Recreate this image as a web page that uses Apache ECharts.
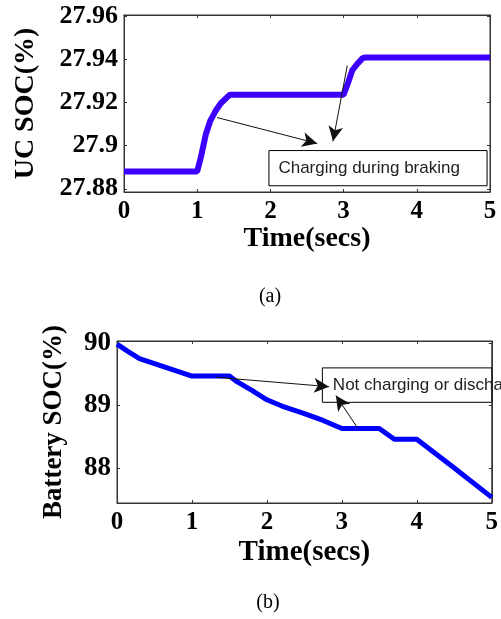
<!DOCTYPE html>
<html>
<head>
<meta charset="utf-8">
<script src="https://cdn.jsdelivr.net/npm/echarts@6/dist/echarts.min.js"></script>
<style>
  html, body { margin: 0; padding: 0; background: #fff; }
  #chart { width: 501px; height: 619px; }
</style>
</head>
<body>
<div id="chart"></div>
<script>
// (a) ultracapacitor state of charge
var ucTime = [0, 1.0, 1.05, 1.12, 1.18, 1.25, 1.32, 1.41, 1.45, 3.0, 3.06, 3.12, 3.19, 3.26, 3.3, 5.0];
var ucSoc = [27.888, 27.888, 27.8946, 27.9055, 27.9116, 27.916, 27.9195, 27.9225, 27.9236, 27.9236, 27.929, 27.935, 27.938, 27.9405, 27.9408, 27.9408];
var ucTicks = [27.88, 27.9, 27.92, 27.94, 27.96];

// (b) battery state of charge
var batTime = [0, 0.15, 0.3, 0.5, 0.75, 1.0, 1.5, 1.6, 1.8, 2.0, 2.2, 2.5, 2.75, 3.0, 3.5, 3.7, 4.0, 4.5, 5.0];
var batSoc = [89.98, 89.86, 89.75, 89.67, 89.57, 89.47, 89.47, 89.38, 89.24, 89.09, 88.99, 88.87, 88.76, 88.63, 88.63, 88.46, 88.46, 88.0, 87.53];
var batTicks = [88, 89, 90];

function pairs(xs, ys) {
    return xs.map(function (x, i) { return [x, ys[i]]; });
}

var serif = '"Liberation Serif", "Times New Roman", serif';
var sans = '"Liberation Sans", Arial, sans-serif';

function xAxisMain(grid, gap, nameSize) {
    return {
        type: 'value', gridIndex: grid, min: 0, max: 5, interval: 1,
        name: 'Time(secs)', nameLocation: 'middle', nameGap: gap,
        nameTextStyle: { fontFamily: serif, fontWeight: 'bold', fontSize: nameSize, color: '#000' },
        axisLine: { onZero: false, lineStyle: { color: '#333', width: 1 } },
        axisTick: { inside: true, length: 3, lineStyle: { color: '#333' } },
        axisLabel: { fontFamily: serif, fontWeight: 'bold', fontSize: 25, color: '#000', margin: 7 },
        splitLine: { show: false }
    };
}
function frameX(grid) {
    return {
        type: 'value', gridIndex: grid, min: 0, max: 5, interval: 1, position: 'top',
        axisLine: { onZero: false, lineStyle: { color: '#333', width: 1 } },
        axisTick: { inside: true, length: 3, lineStyle: { color: '#333' } },
        axisLabel: { show: false }, splitLine: { show: false }
    };
}
function yAxisMain(grid, min, max, ticks, title, gap, labelSize, nameSize) {
    return {
        type: 'value', gridIndex: grid, min: min, max: max,
        name: title, nameLocation: 'middle', nameGap: gap, nameRotate: 90,
        nameTextStyle: { fontFamily: serif, fontWeight: 'bold', fontSize: nameSize, color: '#000' },
        axisLine: { show: true, onZero: false, lineStyle: { color: '#333', width: 1 } },
        axisTick: { inside: true, length: 3, customValues: ticks, lineStyle: { color: '#333' } },
        axisLabel: { customValues: ticks, fontFamily: serif, fontWeight: 'bold', fontSize: labelSize, color: '#000', margin: 6 },
        splitLine: { show: false }
    };
}
function frameY(grid, min, max, ticks) {
    return {
        type: 'value', gridIndex: grid, min: min, max: max, position: 'right',
        axisLine: { show: true, onZero: false, lineStyle: { color: '#333', width: 1 } },
        axisTick: { inside: true, length: 3, customValues: ticks, lineStyle: { color: '#333' } },
        axisLabel: { show: false }, splitLine: { show: false }
    };
}

function arrow(from, to) {
    return [{ coord: from }, { coord: to }];
}

var chart = echarts.init(document.getElementById('chart'));
chart.setOption({
    backgroundColor: '#fff',
    animation: false,
    grid: [
        { left: 124, right: 11, top: 15, height: 177, show: true, borderColor: '#333', borderWidth: 1 },
        { left: 117, right: 2, top: 341, height: 162, show: true, borderColor: '#333', borderWidth: 1 }
    ],
    xAxis: [xAxisMain(0, 33, 28), frameX(0), xAxisMain(1, 35, 29), frameX(1)],
    yAxis: [
        yAxisMain(0, 27.8785, 27.9605, ucTicks, 'UC SOC(%)', 84, 26, 28),
        frameY(0, 27.8785, 27.9605, ucTicks),
        yAxisMain(1, 87.44, 90.03, batTicks, 'Battery SOC(%)', 49, 27, 27),
        frameY(1, 87.44, 90.03, batTicks)
    ],
    series: [
        {
            type: 'line', xAxisIndex: 0, yAxisIndex: 0, data: pairs(ucTime, ucSoc),
            showSymbol: false, clip: false,
            lineStyle: { color: '#3d00ff', width: 6 },
            markArea: {
                silent: true,
                itemStyle: { color: '#fff', borderColor: '#000', borderWidth: 1 },
                label: { show: true, position: 'insideLeft', distance: 10, fontFamily: sans, fontSize: 17, color: '#222' },
                data: [[{ coord: [1.98, 27.8977], name: 'Charging during braking' }, { coord: [4.96, 27.8814] }]]
            },
            markLine: {
                silent: true, symbol: ['none', 'arrow'], symbolSize: [11, 15],
                label: { show: false },
                lineStyle: { color: '#111', width: 1, type: 'solid' },
                data: [arrow([1.27, 27.913], [2.64, 27.901]), arrow([3.05, 27.937], [2.855, 27.902])]
            }
        },
        { type: 'line', xAxisIndex: 1, yAxisIndex: 1, data: [] },
        {
            type: 'line', xAxisIndex: 2, yAxisIndex: 2, data: pairs(batTime, batSoc),
            showSymbol: false, clip: false,
            lineStyle: { color: '#0000ff', width: 5 },
            markArea: {
                silent: true,
                itemStyle: { color: '#fff', borderColor: '#000', borderWidth: 1 },
                label: { show: true, position: 'insideLeft', distance: 11, fontFamily: sans, fontSize: 17, color: '#222' },
                data: [[{ coord: [2.74, 89.6], name: 'Not charging or discharging' }, { coord: [5.3, 89.05] }]]
            },
            markLine: {
                silent: true, symbol: ['none', 'arrow'], symbolSize: [11, 15],
                label: { show: false },
                lineStyle: { color: '#111', width: 1, type: 'solid' },
                data: [arrow([1.32, 89.45], [2.83, 89.3]), arrow([3.21, 88.64], [2.92, 89.16])]
            }
        },
        { type: 'line', xAxisIndex: 3, yAxisIndex: 3, data: [] }
    ],
    graphic: [
        { type: 'text', x: 270, y: 297, style: { text: '(a)', align: 'center', verticalAlign: 'middle', font: '20px ' + serif, fill: '#000' } },
        { type: 'text', x: 268, y: 603, style: { text: '(b)', align: 'center', verticalAlign: 'middle', font: '20px ' + serif, fill: '#000' } }
    ]
});
</script>
</body>
</html>
